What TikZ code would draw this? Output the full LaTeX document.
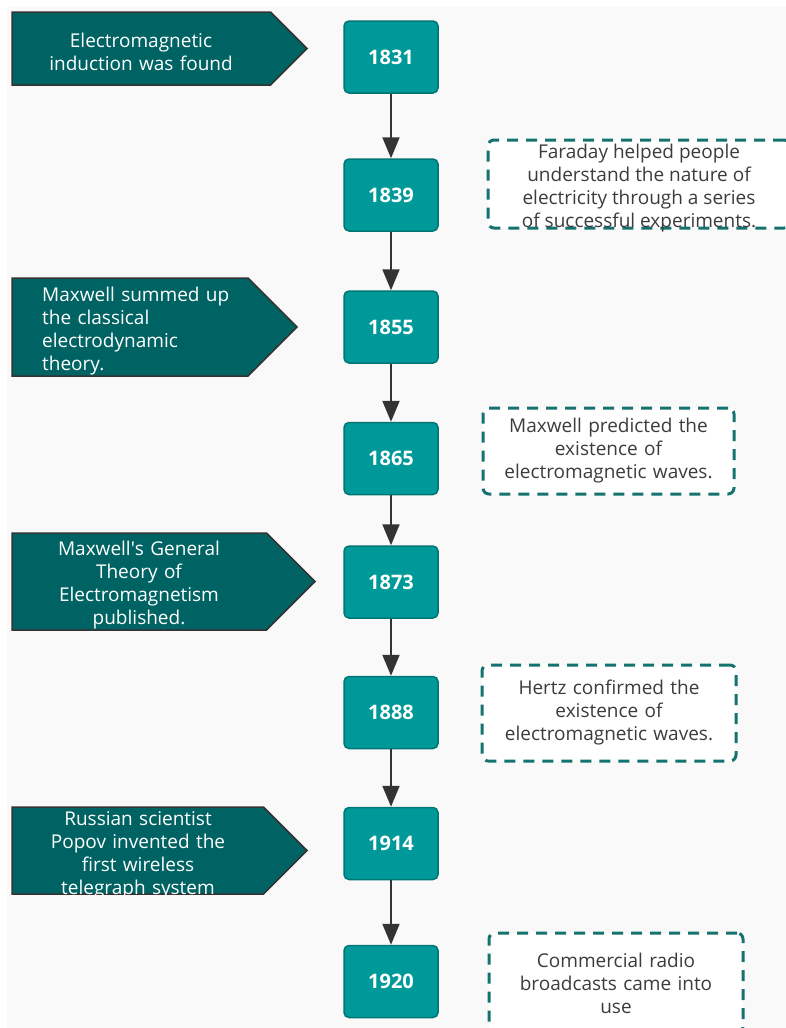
\documentclass[tikz,border=0pt]{standalone}
\usepackage{fontspec}
\setmainfont{Open Sans}
\usetikzlibrary{shapes.symbols,arrows.meta}

\definecolor{backgr}{RGB}{249,249,249}
\definecolor{yearfill}{RGB}{0,153,153}
\definecolor{yearline}{RGB}{0,118,116}
\definecolor{eventfill}{RGB}{0,99,99}
\definecolor{eventline}{RGB}{51,51,51}
\definecolor{noteline}{RGB}{20,115,110}
\definecolor{notetext}{RGB}{60,60,60}
\definecolor{linkcol}{RGB}{51,51,51}

\begin{document}
\begin{tikzpicture}[x=1pt,y=-1pt,
    year/.style={rectangle, rounded corners=5pt, fill=yearfill, draw=yearline,
      line width=1.5pt, minimum width=94pt, minimum height=72pt, inner sep=0pt,
      text=white, font=\bfseries\fontsize{20}{23}\selectfont},
    event/.style={signal, signal to=east, fill=eventfill, draw=eventline,
      line width=1.5pt, inner sep=0pt},
    eventtext/.style={text=white, font=\fontsize{19}{23}\selectfont,
      text width=205pt, align=center, inner sep=0pt},
    note/.style={rectangle, rounded corners=6pt, fill=white, draw=noteline,
      line width=3pt, dash pattern=on 11pt off 8pt, inner sep=0pt,
      text=notetext, align=center, font=\fontsize{19}{23}\selectfont},
    notetext/.style={text=notetext, align=center, inner sep=0pt,
      font=\fontsize{19}{23}\selectfont},
    link/.style={draw=linkcol, line width=2pt, -{Triangle[length=21pt,width=17pt]}}]
  \useasboundingbox (0,0) rectangle (786,1028);
  \fill[backgr] (7,7) rectangle (786,1028);

  % timeline
  \node[year] (y1831) at (391,57) {1831};
  \node[year] (y1839) at (391,195) {1839};
  \node[year] (y1855) at (391,327) {1855};
  \node[year] (y1865) at (391,458.5) {1865};
  \node[year] (y1873) at (391,582) {1873};
  \node[year] (y1888) at (391,712.5) {1888};
  \node[year] (y1914) at (391,843.5) {1914};
  \node[year] (y1920) at (391,981.5) {1920};

  \draw[link] (y1831) -- (y1839);
  \draw[link] (y1839) -- (y1855);
  \draw[link] (y1855) -- (y1865);
  \draw[link] (y1865) -- (y1873);
  \draw[link] (y1873) -- (y1888);
  \draw[link] (y1888) -- (y1914);
  \draw[link] (y1914) -- (y1920);

  % events on the left
  \node[event, minimum width=295pt, minimum height=73pt] (ev1831) at (141.25,48.5) {};
  \node[eventtext] (tx1831) at (141,51.5) {Electromagnetic\\induction was found};

  \node[event, minimum width=285pt, minimum height=98pt] (ev1855) at (130,327) {};
  \begin{scope}
    \clip (ev1855.west |- ev1855.north) rectangle (ev1855.east |- ev1855.south);
    \node[eventtext, align=left, anchor=north west] (tx1855) at (42,287)
      {Maxwell summed up\\the classical\\electrodynamic\\theory.};
  \end{scope}

  \node[event, minimum width=303pt, minimum height=97pt] (ev1873) at (139.25,581.5) {};
  \node[eventtext] (tx1873) at (139,585)
    {Maxwell\textquotesingle s General\\Theory of\\Electromagnetism\\published.};

  \node[event, minimum width=295pt, minimum height=87pt] (ev1914) at (137.75,850.5) {};
  \begin{scope}
    \clip (ev1914.west |- ev1914.north) rectangle (ev1914.east |- ev1914.south);
    \node[eventtext] (tx1914) at (138,855)
      {Russian scientist\\Popov invented the\\first wireless\\telegraph system};
  \end{scope}

  % notes on the right
  \node[note, minimum width=302pt, minimum height=88pt] (nt1839) at (639,184) {};
  \node[notetext] (tt1839) at ([yshift=-4pt]nt1839.center)
    {Faraday helped people\\understand the nature of\\electricity through a series\\of successful experiments.};
  \node[note, minimum width=251pt, minimum height=86pt, text width=245pt] (nt1865) at (608.5,451)
    {Maxwell predicted the\\existence of\\electromagnetic waves.};
  \node[note, minimum width=254pt, minimum height=96pt, text width=248pt] (nt1888) at (609,713)
    {Hertz confirmed the\\existence of\\electromagnetic waves.};
  \node[note, minimum width=254pt, minimum height=100pt, text width=248pt] (nt1920) at (616,983)
    {Commercial radio\\broadcasts came into\\use};
\end{tikzpicture}
\end{document}
